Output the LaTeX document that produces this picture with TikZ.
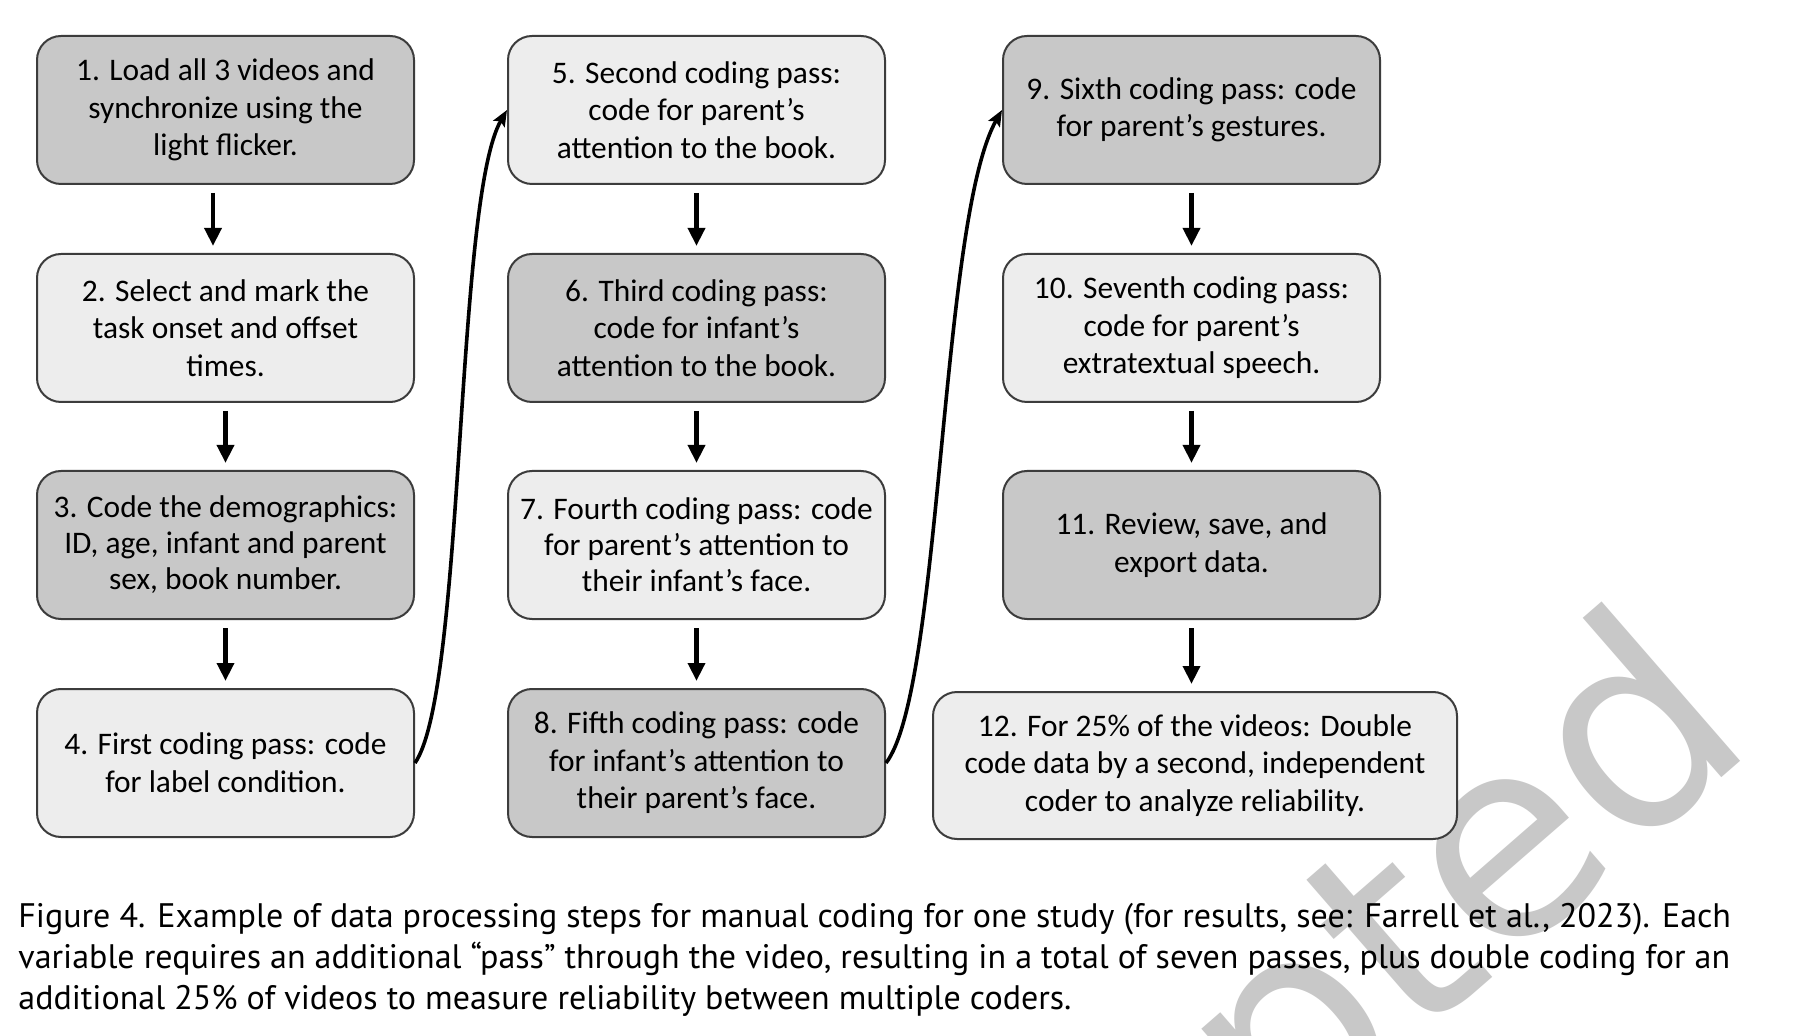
\documentclass[tikz,border=0pt]{standalone}
\usepackage{fontspec}
\setmainfont{Carlito}
\newfontfamily\capfont{PT Sans}
\newfontfamily\wmfont{DejaVu Sans}
\usetikzlibrary{arrows.meta}
\definecolor{darkbox}{HTML}{C8C8C8}
\definecolor{lightbox}{HTML}{EDEDED}
\definecolor{boxline}{HTML}{3C3C3C}
\definecolor{wmgray}{HTML}{C8C8C8}
\tikzset{
  stepbox/.style={draw=boxline, line width=1pt, rounded corners=12pt,
    minimum width=188.5pt, minimum height=74pt, inner sep=0pt, align=center,
    font=\fontsize{15.7}{18.8}\selectfont, text=black},
  darkstep/.style={stepbox, fill=darkbox},
  lightstep/.style={stepbox, fill=lightbox},
  tight/.style={font=\fontsize{15.7}{18}\selectfont},
  downarr/.style={line width=2.3pt, -{Triangle[length=9pt,width=8.3pt]},
    shorten <=4pt, shorten >=3.5pt},
  curvearr/.style={line width=1.8pt, -{Stealth[length=8pt,width=6.5pt,inset=1.5pt]}},
  captext/.style={anchor=base west, inner sep=0pt, font=\capfont\fontsize{17}{20.5}\selectfont},
}
\begin{document}
\begin{tikzpicture}[x=0.5pt, y=-0.5pt]
\useasboundingbox (0,0) rectangle (1818,1036);
\fill[white] (0,0) rectangle (1818,1036);
% watermark
\begin{scope}
\clip (0,0) rectangle (1818,1036);
\node[rotate=41, anchor=base east, inner sep=0pt, text=wmgray,
  font=\wmfont\fontsize{139}{139}\selectfont] (wm) at (1760,745) {Accepted};
\end{scope}
% column 1
\node[darkstep]  (b1) at (225.5,110) {1. Load all 3 videos and\\synchronize using the\\light flicker.};
\node[lightstep] (b2) at (225.5,328) {2. Select and mark the\\task onset and offset\\times.};
\node[darkstep, tight] (b3) at (225.5,545) {3. Code the demographics:\\ID, age, infant and parent\\sex, book number.};
\node[lightstep] (b4) at (225.5,763) {4. First coding pass: code\\for label condition.};
% column 2
\node[lightstep] (b5) at (696.5,110) {5. Second coding pass:\\code for parent’s\\attention to the book.};
\node[darkstep]  (b6) at (696.5,328) {6. Third coding pass:\\code for infant’s\\attention to the book.};
\node[lightstep, tight] (b7) at (696.5,545) {7. Fourth coding pass: code\\for parent’s attention to\\their infant’s face.};
\node[darkstep]  (b8) at (696.5,763) {8. Fifth coding pass: code\\for infant’s attention to\\their parent’s face.};
% column 3
\node[darkstep]  (b9) at (1191.5,110) {9. Sixth coding pass: code\\for parent’s gestures.};
\node[lightstep] (b10) at (1191.5,328) {10. Seventh coding pass:\\code for parent’s\\extratextual speech.};
\node[darkstep]  (b11) at (1191.5,545) {11. Review, save, and\\export data.};
\node[lightstep, minimum width=262pt, minimum height=73.5pt] (b12) at (1195,765.5) {12. For 25\% of the videos: Double\\code data by a second, independent\\coder to analyze reliability.};
% straight arrows
\draw[downarr] ([xshift=-6.25pt]b1.south) -- ([xshift=-6.25pt]b2.north);
\draw[downarr] (b2) -- (b3);
\draw[downarr] (b3) -- (b4);
\draw[downarr] (b5) -- (b6);
\draw[downarr] (b6) -- (b7);
\draw[downarr] (b7) -- (b8);
\draw[downarr] (b9) -- (b10);
\draw[downarr] (b10) -- (b11);
\draw[downarr] (b11.south) -- (b11.south |- b12.north);
% curved connectors
\draw[curvearr] (b4.east) .. controls (465,690) and (455,200) .. (b5.west);
\draw[curvearr] (b8.east) .. controls (942,690) and (940,220) .. (b9.west);
% caption
\node[captext] (cap1) at (18,927) {Figure 4. Example of data processing steps for manual coding for one study (for results, see: Farrell et al., 2023). Each};
\node[captext] (cap2) at (18,968) {variable requires an additional “pass” through the video, resulting in a total of seven passes, plus double coding for an};
\node[captext] (cap3) at (18,1009) {additional 25\% of videos to measure reliability between multiple coders.};
\end{tikzpicture}
\end{document}
